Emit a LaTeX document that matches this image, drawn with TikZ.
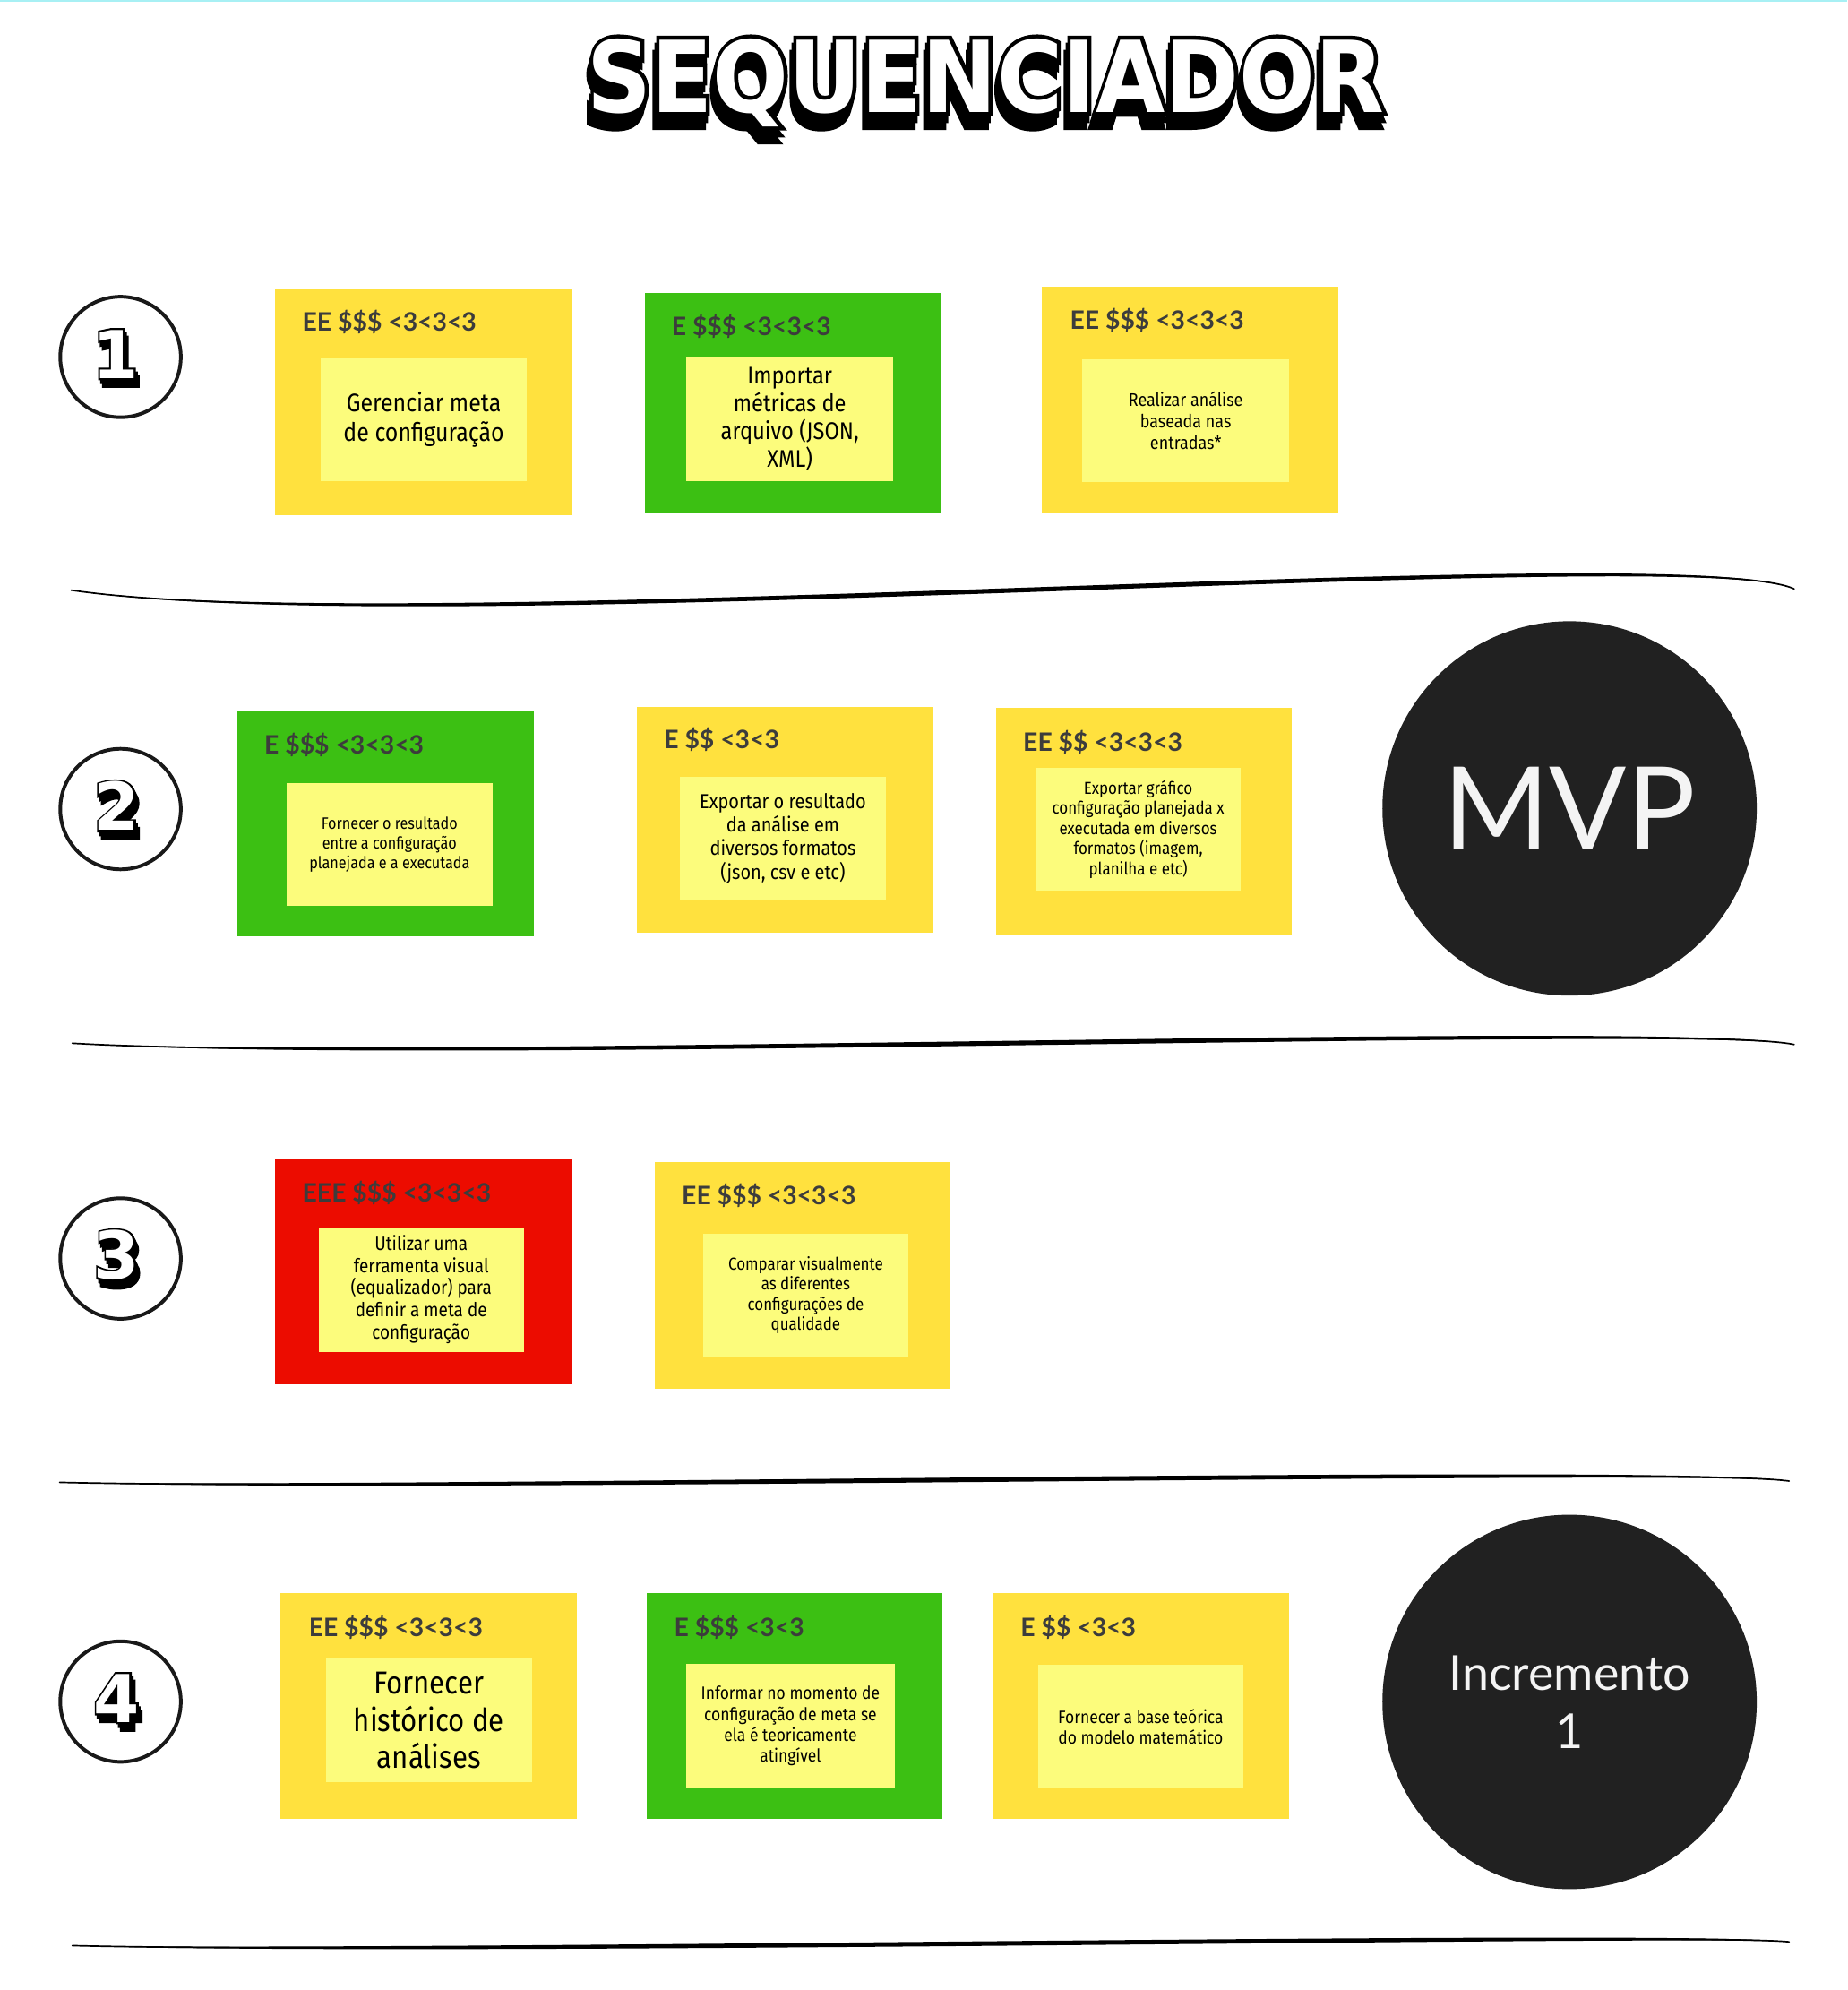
\documentclass[tikz,border=0pt]{standalone}
\usepackage{fontspec}
\usepackage{graphicx}
\usetikzlibrary{calc,fit}
\setmainfont{Lato}
\newfontfamily\labelfont{Lato}
\newfontfamily\notefont[FakeStretch=0.88]{Fira Sans}
\newfontfamily\heavyfont{DejaVu Sans}
% the same heavy face, stroked: used for the black rims and shadows of the lettering
\newfontfamily\rimfont[BoldFeatures={FakeBold=8}]{DejaVu Sans}
\newfontfamily\digitrimfont[BoldFeatures={FakeBold=6}]{DejaVu Sans}

\definecolor{stickyyellow}{HTML}{FFE13E}
\definecolor{stickygreen}{HTML}{3CC013}
\definecolor{stickyred}{HTML}{EC0C00}
\definecolor{notepaper}{HTML}{FCFC7C}
\definecolor{tagink}{HTML}{3C3C3C}
\definecolor{badgefill}{HTML}{212121}
\definecolor{badgeink}{HTML}{F4F4F4}
\definecolor{topedge}{HTML}{A8F0F4}

% white lettering over a stroked black rim and a drop shadow
% #1 name, #2 x, #3 y, #4 shadow dx, #5 shadow dy, #6 rim content, #7 face content
\newcommand{\inkedword}[7]{%
  \node[inner sep=0, text=black] at ({#2+#4},{#3+#5}) {#6};
  \node[inner sep=0, text=black] at ({#2+0.5*#4},{#3+0.5*#5}) {#6};
  \node[inner sep=0, text=black] at (#2,#3) {#6};
  \node[inner sep=0, text=white] (#1) at (#2,#3) {#7};
}

\tikzset{
  stickycard/.style={draw=none, inner sep=0, outer sep=0, fill=#1},
  notepad/.style={draw=none, inner sep=0, outer sep=0, fill=notepaper},
  notetext/.style={inner sep=0, align=center, text=black},
  cardtag/.style={anchor=west, inner sep=0, text=tagink,
    font=\labelfont\bfseries\fontsize{10}{12}\selectfont},
  rowmark/.style={circle, draw=black!90, line width=1.4pt, minimum size=47.5pt, inner sep=0},
  disc/.style={circle, fill=badgefill, minimum size=147.5pt, inner sep=0},
  divider/.style={fill=black}
}

\newcommand{\titleface}[1]{\resizebox{314pt}{29pt}{\heavyfont\bfseries #1}}
\newcommand{\titlerim}[1]{\resizebox{314pt}{29pt}{\rimfont\bfseries #1}}
\newcommand{\digitface}[1]{{\heavyfont\bfseries\fontsize{26}{26}\selectfont #1}}
\newcommand{\digitrim}[1]{{\digitrimfont\bfseries\fontsize{26}{26}\selectfont #1}}

\begin{document}
\begin{tikzpicture}[x=0.5pt, y=-0.5pt]
\useasboundingbox (0,0) rectangle (1456,1568);
\fill[white] (0,0) rectangle (1456,1568);
\draw[topedge, line width=1pt] (0,0.5) -- (1456,0.5);

% heading
\inkedword{title}{777}{65}{-3}{11}{\titlerim{SEQUENCIADOR}}{\titleface{SEQUENCIADOR}}

% row markers
\node[rowmark] (mark1) at (95,281.3) {};
\node[rowmark] (mark2) at (95,637.5) {};
\node[rowmark] (mark3) at (95,991.6) {};
\node[rowmark] (mark4) at (95,1340.7) {};
\inkedword{d1}{91}{279}{3}{6}{\digitrim{1}}{\digitface{1}}
\inkedword{d2}{92}{635}{3}{6}{\digitrim{2}}{\digitface{2}}
\inkedword{d3}{92}{989}{3}{6}{\digitrim{3}}{\digitface{3}}
\inkedword{d4}{92}{1338}{3}{6}{\digitrim{4}}{\digitface{4}}

% hand-drawn dividers
\foreach \xa/\ya/\xb/\yb/\xc/\yc/\xd/\yd in {
    56/465/330/505/1330/425/1414/464,
    57/822/330/838/1330/805/1414/823,
    47/1168/330/1175/1330/1155/1410/1167,
    57/1533/330/1540/1330/1522/1410/1530}{
  \fill[divider] (\xa,\ya) .. controls (\xb,\yb-2.4) and (\xc,\yc-2.4) .. (\xd,\yd)
     .. controls (\xc,\yc+2.4) and (\xb,\yb+2.4) .. (\xa,\ya) -- cycle;
  \draw[black, line width=0.6pt, line cap=round] (\xa,\ya) .. controls (\xb,\yb) and (\xc,\yc) .. (\xd,\yd);
}

% ---- row 1
\node[stickycard=stickyyellow, fit={(217,228)(451,406)}] (cardA) {};
\node[cardtag] (tagA) at (238,254) {EE \$\$\$ <3<3<3};
\node[notepad, fit={(253,282)(415,379)}] (padA) {};
\node[notetext, font=\notefont\fontsize{10}{11.5}\selectfont] (txtA) at (padA.center)
  {Gerenciar meta\\de configuração};

\node[stickycard=stickygreen, fit={(508,231)(741,404)}] (cardB) {};
\node[cardtag] (tagB) at (529,257) {E \$\$\$ <3<3<3};
\node[notepad, fit={(541,281)(704,379)}] (padB) {};
\node[notetext, font=\notefont\fontsize{9.5}{11}\selectfont] (txtB) at (padB.center)
  {Importar\\métricas de\\arquivo (JSON,\\XML)};

\node[stickycard=stickyyellow, fit={(821,226)(1055,404)}] (cardC) {};
\node[cardtag] (tagC) at (843,252) {EE \$\$\$ <3<3<3};
\node[notepad, fit={(853,283)(1016,380)}] (padC) {};
\node[notetext, font=\notefont\fontsize{7.2}{8.5}\selectfont] (txtC) at (padC.center)
  {Realizar análise\\baseada nas\\entradas*};

% ---- row 2
\node[stickycard=stickygreen, fit={(187,560)(421,738)}] (cardD) {};
\node[cardtag] (tagD) at (208,587) {E \$\$\$ <3<3<3};
\node[notepad, fit={(226,617)(388,714)}] (padD) {};
\node[notetext, font=\notefont\fontsize{6.5}{7.8}\selectfont] (txtD) at (padD.center)
  {Fornecer o resultado\\entre a configuração\\planejada e a executada};

\node[stickycard=stickyyellow, fit={(502,557)(735,735)}] (cardE) {};
\node[cardtag] (tagE) at (523,583) {E \$\$ <3<3};
\node[notepad, fit={(536,612)(698,709)}] (padE) {};
\node[notetext, font=\notefont\fontsize{8}{9.3}\selectfont] (txtE) at (padE.center)
  {Exportar o resultado\\da análise em\\diversos formatos\\(json, csv e etc)};

\node[stickycard=stickyyellow, fit={(785,558)(1018,736)}] (cardF) {};
\node[cardtag] (tagF) at (806,585) {EE \$\$ <3<3<3};
\node[notepad, fit={(816,605)(978,702)}] (padF) {};
\node[notetext, font=\notefont\fontsize{6.8}{8}\selectfont] (txtF) at (padF.center)
  {Exportar gráfico\\configuração planejada x\\executada em diversos\\formatos (imagem,\\planilha e etc)};

\node[disc] (mvpdisc) at (1237,637) {};
\node[inner sep=0, text=badgeink, font=\labelfont\fontsize{45}{54}\selectfont] (mvptext) at (mvpdisc.center) {MVP};

% ---- row 3
\node[stickycard=stickyred, fit={(217,913)(451,1091)}] (cardG) {};
\node[cardtag] (tagG) at (238,940) {EEE \$\$\$ <3<3<3};
\node[notepad, fit={(251,967)(413,1065)}] (padG) {};
\node[notetext, font=\notefont\fontsize{7.6}{8.8}\selectfont] (txtG) at (padG.center)
  {Utilizar uma\\ferramenta visual\\(equalizador) para\\definir a meta de\\configuração};

\node[stickycard=stickyyellow, fit={(516,916)(749,1094)}] (cardH) {};
\node[cardtag] (tagH) at (537,942) {EE \$\$\$ <3<3<3};
\node[notepad, fit={(554,972)(716,1069)}] (padH) {};
\node[notetext, font=\notefont\fontsize{6.8}{7.9}\selectfont] (txtH) at (padH.center)
  {Comparar visualmente\\as diferentes\\configurações de\\qualidade};

% ---- row 4
\node[stickycard=stickyyellow, fit={(221,1255)(455,1433)}] (cardI) {};
\node[cardtag] (tagI) at (243,1282) {EE \$\$\$ <3<3<3};
\node[notepad, fit={(257,1307)(419,1404)}] (padI) {};
\node[notetext, font=\notefont\fontsize{12.5}{14.5}\selectfont] (txtI) at (padI.center)
  {Fornecer\\histórico de\\análises};

\node[stickycard=stickygreen, fit={(510,1255)(743,1433)}] (cardJ) {};
\node[cardtag] (tagJ) at (531,1282) {E \$\$\$ <3<3};
\node[notepad, fit={(541,1311)(705,1409)}] (padJ) {};
\node[notetext, font=\notefont\fontsize{7}{8.2}\selectfont] (txtJ) at (padJ.center)
  {Informar no momento de\\configuração de meta se\\ela é teoricamente\\atingível};

\node[stickycard=stickyyellow, fit={(783,1255)(1016,1433)}] (cardK) {};
\node[cardtag] (tagK) at (804,1282) {E \$\$ <3<3};
\node[notepad, fit={(818,1312)(980,1409)}] (padK) {};
\node[notetext, font=\notefont\fontsize{7}{8}\selectfont] (txtK) at (padK.center)
  {Fornecer a base teórica\\do modelo matemático};

\node[disc] (incdisc) at (1237,1341) {};
\node[inner sep=0, align=center, text=badgeink, font=\labelfont\fontsize{19}{23}\selectfont] (inctext) at (incdisc.center) {Incremento\\1};

\end{tikzpicture}
\end{document}
